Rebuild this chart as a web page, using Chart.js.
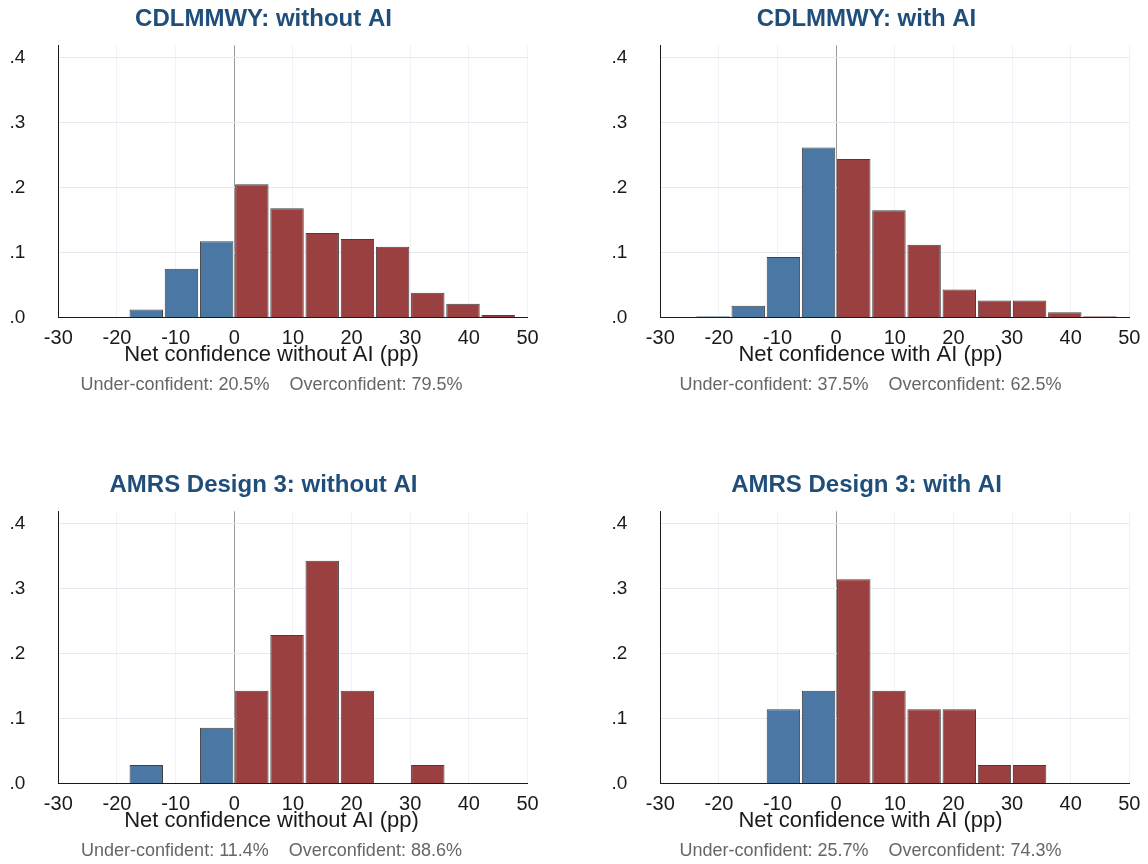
<!DOCTYPE html>
<html lang="en">
<head>
    <meta charset="UTF-8">
    <title>Net confidence histograms</title>
    <script src="https://cdn.jsdelivr.net/npm/chart.js"></script>
    <style>
        * {
            margin: 0;
            padding: 0;
            box-sizing: border-box;
        }

        body {
            width: 1148px;
            height: 864px;
            position: relative;
            overflow: hidden;
            background: #fff;
        }

        .panel {
            position: absolute;
        }
    </style>
</head>
<body>
    <div class="panel" style="left:0;top:0"><canvas id="c1" width="574" height="398"></canvas></div>
    <div class="panel" style="left:574px;top:0"><canvas id="c2" width="574" height="398"></canvas></div>
    <div class="panel" style="left:0;top:466px"><canvas id="c3" width="574" height="398"></canvas></div>
    <div class="panel" style="left:574px;top:466px"><canvas id="c4" width="574" height="398"></canvas></div>

    <script>
        // histogram bins (6 pp wide), centres
        const binCenters = [-27, -21, -15, -9, -3, 3, 9, 15, 21, 27, 33, 39, 45];

        // bin densities
        const cdlWithout = [0, 0, 0.0125, 0.075, 0.1175, 0.205, 0.168, 0.130, 0.121, 0.109, 0.038, 0.021, 0.004];
        const cdlWith = [0, 0.002, 0.018, 0.093, 0.2615, 0.244, 0.165, 0.112, 0.043, 0.026, 0.026, 0.008, 0.002];
        const amrsWithout = [0, 0, 0.0286, 0, 0.0857, 0.1429, 0.2286, 0.3429, 0.1429, 0, 0.0286, 0, 0];
        const amrsWith = [0, 0, 0, 0.1143, 0.1429, 0.3143, 0.1429, 0.1143, 0.1143, 0.0286, 0.0286, 0, 0];

        const panelTitles = ['CDLMMWY: without AI', 'CDLMMWY: with AI', 'AMRS Design 3: without AI', 'AMRS Design 3: with AI'];
        const xAxisLabels = ['Net confidence without AI (pp)', 'Net confidence with AI (pp)', 'Net confidence without AI (pp)', 'Net confidence with AI (pp)'];
        const shareNotes = [
            'Under-confident: 20.5%    Overconfident: 79.5%',
            'Under-confident: 37.5%    Overconfident: 62.5%',
            'Under-confident: 11.4%    Overconfident: 88.6%',
            'Under-confident: 25.7%    Overconfident: 74.3%'
        ];

        const xTicks = [-30, -20, -10, 0, 10, 20, 30, 40, 50];
        const yTicks = [0, 0.1, 0.2, 0.3, 0.4];

        const FONT = "'Liberation Sans', Arial, Helvetica, sans-serif";
        const BLUE = '#4a77a4';
        const RED = '#9b4041';

        // panel title on top, axis label and share line under the x axis
        const panelTextPlugin = {
            id: 'panelText',
            afterDraw(chart, args, opts) {
                const { ctx, chartArea } = chart;
                ctx.save();
                ctx.textAlign = 'center';
                ctx.textBaseline = 'middle';

                ctx.font = 'bold 24px ' + FONT;
                ctx.fillStyle = '#1f4e7a';
                ctx.fillText(opts.title, opts.titleX, 19);

                ctx.font = '22px ' + FONT;
                ctx.fillStyle = '#1a1a1a';
                ctx.fillText(opts.label, opts.labelX, chartArea.bottom + 37);

                ctx.font = '18px ' + FONT;
                ctx.fillStyle = '#666';
                ctx.fillText(opts.note, opts.labelX, chartArea.bottom + 68);
                ctx.restore();
            }
        };

        function makePanel(id, idx, values, yAxisWidth, padRight, titleX, labelX) {
            const points = binCenters
                .map((x, i) => ({ x: x, y: values[i] }))
                .filter(p => p.y > 0);

            return new Chart(document.getElementById(id), {
                type: 'bar',
                data: {
                    datasets: [{
                        data: points,
                        backgroundColor: points.map(p => p.x < 0 ? BLUE : RED),
                        borderColor: '#404040',
                        borderWidth: 1,
                        barPercentage: 0.95,
                        categoryPercentage: 1
                    }]
                },
                options: {
                    responsive: false,
                    animation: false,
                    layout: { padding: { top: 45.3, bottom: 48.5, left: 0, right: 0 } },
                    scales: {
                        x: {
                            type: 'linear',
                            offset: false,
                            min: -30,
                            max: 50,
                            afterBuildTicks: s => { s.ticks = xTicks.map(v => ({ value: v })); },
                            afterFit: s => {
                                s.height = 32;
                                s.paddingLeft = 0;
                                s.paddingRight = padRight;
                            },
                            ticks: {
                                padding: 9.5,
                                maxRotation: 0,
                                autoSkip: false,
                                color: '#1a1a1a',
                                font: { family: FONT, size: 20, lineHeight: 1.1 }
                            },
                            grid: {
                                offset: false,
                                drawTicks: false,
                                color: c => c.tick && c.tick.value === 0 ? '#9a9a9a' : '#f1f2f6'
                            },
                            border: { color: '#1a1a1a', width: 1 }
                        },
                        y: {
                            min: 0,
                            max: 0.419,
                            afterBuildTicks: s => { s.ticks = yTicks.map(v => ({ value: v })); },
                            afterFit: s => { s.width = yAxisWidth; },
                            ticks: {
                                padding: 33,
                                color: '#1a1a1a',
                                font: { family: FONT, size: 19 },
                                callback: v => v.toFixed(1).replace(/^0/, '')
                            },
                            grid: {
                                drawTicks: false,
                                color: c => c.tick && c.tick.value === 0 ? 'rgba(0,0,0,0)' : '#e6e9f0'
                            },
                            border: { color: '#1a1a1a', width: 1 }
                        }
                    },
                    plugins: {
                        legend: { display: false },
                        tooltip: { enabled: false },
                        panelText: {
                            title: panelTitles[idx],
                            label: xAxisLabels[idx],
                            note: shareNotes[idx],
                            titleX: titleX,
                            labelX: labelX
                        }
                    }
                },
                plugins: [panelTextPlugin]
            });
        }

        makePanel('c1', 0, cdlWithout, 58.3, 46.5, 263.5, 271.5);
        makePanel('c2', 1, cdlWith, 86.3, 18.7, 292.5, 296.5);
        makePanel('c3', 2, amrsWithout, 58.3, 46.5, 263.5, 271.5);
        makePanel('c4', 3, amrsWith, 86.3, 18.7, 292.5, 296.5);
    </script>
</body>
</html>
